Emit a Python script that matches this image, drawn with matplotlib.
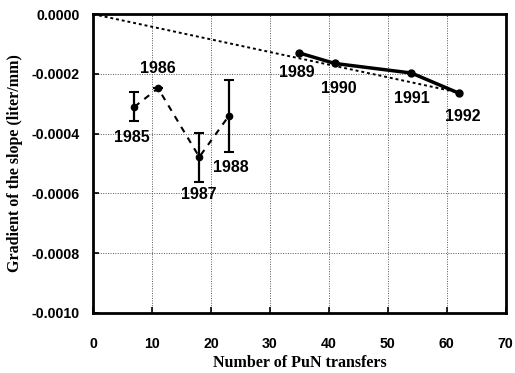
import matplotlib.pyplot as plt

# Early campaign (dashed, with error bars)
early_x = [7, 11, 18, 23]
early_y = [-0.00031, -0.000248, -0.000478, -0.000341]
early_lo = [0.000048, 0.0, 0.000084, 0.00012]
early_hi = [0.00005, 0.0, 0.00008, 0.00012]
early_years = ["1985", "1986", "1987", "1988"]

# Later campaign (solid)
late_x = [35, 41, 54, 62]
late_y = [-0.00013, -0.000165, -0.000197, -0.000264]
late_years = ["1989", "1990", "1991", "1992"]

# Fitted trend line (dotted)
fit_x = [0, 62]
fit_y = [0.0, -0.000262]

# label offsets in points (dx, dy)
early_off = [(-2, -22), (0, 14), (0, -27), (1.5, -37)]
late_off = [(-2, -14), (3, -18), (0, -18), (3, -17)]

fig = plt.figure(figsize=(5.15, 3.73), dpi=100)
ax = fig.add_axes([0.181, 0.161, 0.801, 0.801])

ax.plot(fit_x, fit_y, color="black", ls=(0, (1.5, 1.5)), lw=1.4, zorder=2)
ax.errorbar(early_x, early_y, yerr=[early_lo, early_hi], color="black",
            ls=(0, (3, 3)), lw=1.5, marker="o", ms=4.5, capsize=3.5,
            elinewidth=1.6, capthick=1.5, zorder=3)
ax.plot(late_x, late_y, color="black", lw=2.5, marker="o", ms=5, zorder=3)

for x, y, s, (dx, dy) in zip(early_x + late_x, early_y + late_y,
                             early_years + late_years, early_off + late_off):
    ax.annotate(s, (x, y), xytext=(dx, dy), textcoords="offset points",
                ha="center", va="center", fontsize=11.5, fontweight="bold",
                family="Liberation Sans")

ax.set_xlim(0, 70)
ax.set_ylim(-0.0010, 0.0)
ax.set_xticks(range(0, 71, 10))
ax.set_yticks([-0.0010, -0.0008, -0.0006, -0.0004, -0.0002, 0.0])
ax.set_yticklabels([f"{v:.4f}" for v in ax.get_yticks()])
ax.grid(True, color="#555555", ls=(0, (1, 1.5)), lw=0.7)
ax.tick_params(direction="in", length=4, width=1.2)
ax.tick_params(axis="x", pad=17)
ax.tick_params(axis="y", pad=9.5)
for lab in ax.get_xticklabels() + ax.get_yticklabels():
    lab.set_fontweight("bold")
    lab.set_family("Liberation Sans")
    lab.set_fontsize(10.2)
for sp in ax.spines.values():
    sp.set_linewidth(2)

ax.set_xlabel("Number of PuN transfers", family="Liberation Serif",
              fontsize=11.5, fontweight="bold", labelpad=3)
ax.set_ylabel("Gradient of the slope (liter/mm)", family="Liberation Serif",
              fontsize=11.5, fontweight="bold", labelpad=6)

fig.savefig("out.png", dpi=100)
